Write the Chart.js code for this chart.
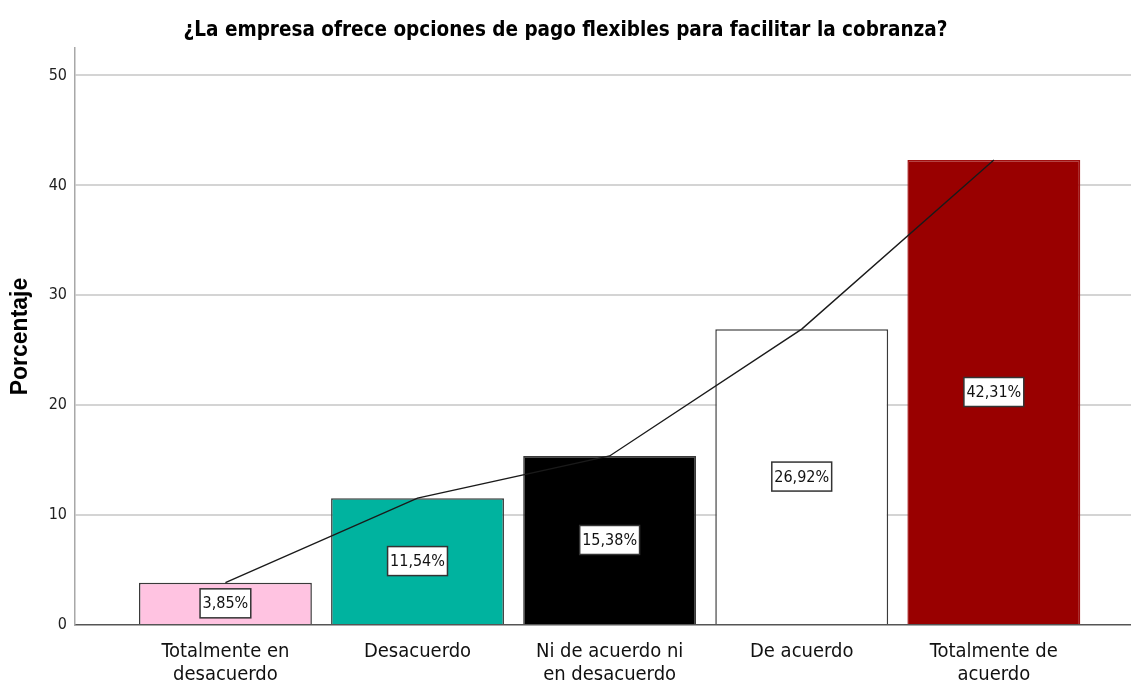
<!DOCTYPE html>
<html>
<head>
<meta charset="utf-8">
<script src="https://cdn.jsdelivr.net/npm/chart.js@4.4.0/dist/chart.umd.min.js"></script>
<style>
  html, body { margin: 0; padding: 0; background: #fff; }
  #wrap { width: 1131px; height: 682px; }
</style>
</head>
<body>
<div id="wrap"><canvas id="grafico"></canvas></div>
<script>
// Datos
const categorias = [
  ["Totalmente en", "desacuerdo"],
  "Desacuerdo",
  ["Ni de acuerdo ni", "en desacuerdo"],
  "De acuerdo",
  ["Totalmente de", "acuerdo"],
];
const porcentajes = [3.85, 11.54, 15.38, 26.92, 42.31];
const etiquetas = ["3,85%", "11,54%", "15,38%", "26,92%", "42,31%"];
const colores = ["#ffc3e1", "#00b39f", "#000000", "#ffffff", "#990000"];
const bordes = ["#3a3a3a", "#3a3a3a", "#3a3a3a", "#3a3a3a", "#a01010"];
const marcasY = [0, 10, 20, 30, 40, 50];

const narrow = "'DejaVu Sans Condensed', 'Liberation Sans Narrow', sans-serif";

// Etiquetas con recuadro blanco en el centro de cada barra
const etiquetasBarras = {
  id: "etiquetasBarras",
  afterDatasetsDraw(chart) {
    const meta = chart.getDatasetMeta(0);
    const ctx = chart.ctx;
    ctx.save();
    ctx.font = "16px " + narrow;
    ctx.textAlign = "center";
    ctx.textBaseline = "middle";
    meta.data.forEach((el, i) => {
      const txt = etiquetas[i];
      const w = ctx.measureText(txt).width + 5;
      const h = 29;
      const cy = (el.y + el.base) / 2;
      ctx.fillStyle = "#fff";
      ctx.fillRect(el.x - w / 2, cy - h / 2, w, h);
      ctx.lineWidth = 1.5;
      ctx.strokeStyle = "#333";
      ctx.strokeRect(el.x - w / 2, cy - h / 2, w, h);
      ctx.fillStyle = "#111";
      ctx.fillText(txt, el.x, cy + 1);
    });
    ctx.restore();
  },
};

const data = {
  datasets: [
    {
      type: "bar",
      data: porcentajes.map((v, i) => ({ x: i, y: v })),
      backgroundColor: colores,
      borderColor: bordes,
      borderWidth: 1.5,
      barPercentage: 0.9,
      categoryPercentage: 1,
      order: 1,
    },
    {
      type: "line",
      data: porcentajes.map((v, i) => ({ x: i, y: v })),
      borderColor: "#1a1a1a",
      borderWidth: 1.4,
      pointRadius: 0,
      tension: 0,
      order: 0,
    },
  ],
};

const config = {
  type: "bar",
  data,
  plugins: [etiquetasBarras],
  options: {
    responsive: true,
    maintainAspectRatio: false,
    animation: false,
    layout: { padding: 0 },
    plugins: {
      legend: { display: false },
      tooltip: { enabled: false },
      title: {
        display: true,
        align: "center",
        text: "¿La empresa ofrece opciones de pago flexibles para facilitar la cobranza?",
        color: "#000",
        font: { family: narrow, size: 20.5, weight: "bold", lineHeight: 1.2 },
        padding: { top: 18, bottom: 5.4 },
      },
    },
    scales: {
      x: {
        type: "linear",
        offset: false,
        min: -0.783,
        max: 4.714,
        afterBuildTicks: (axis) => (axis.ticks = categorias.map((c, i) => ({ value: i }))),
        afterFit: (scale) => { scale.height = 57; },
        grid: { display: false, drawTicks: false },
        border: { display: true, color: "#555", width: 1.5 },
        ticks: {
          callback: (value) => categorias[value],
          color: "#111",
          font: { family: narrow, size: 20, lineHeight: 1.15 },
          padding: 15,
          maxRotation: 0,
          autoSkip: false,
        },
      },
      y: {
        min: 0,
        max: 52.5,
        afterBuildTicks: (axis) => (axis.ticks = marcasY.map((v) => ({ value: v }))),
        afterFit: (scale) => { scale.width = 75; },
        grid: {
          drawTicks: false,
          lineWidth: 2,
          color: (c) => (c.tick && c.tick.value === 0 ? "rgba(0,0,0,0)" : "#d4d4d4"),
        },
        border: { display: true, color: "#a8a8a8", width: 1.5 },
        ticks: {
          color: "#222",
          font: { family: narrow, size: 16 },
          padding: 8,
        },
        title: {
          display: true,
          text: "Porcentaje",
          color: "#000",
          font: { family: "'Liberation Sans', Arial, sans-serif", size: 23, weight: "bold" },
          padding: { top: 7, bottom: 0 },
        },
      },
    },
  },
};

const canvas = document.getElementById("grafico");
const grafico = new Chart(canvas, config);
</script>
</body>
</html>
